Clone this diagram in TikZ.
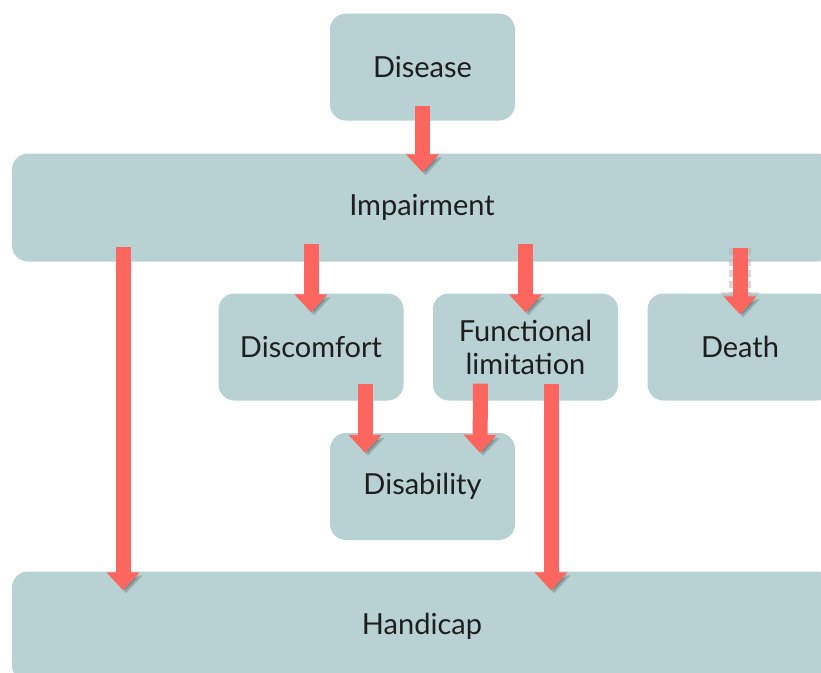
\documentclass[tikz,border=0pt]{standalone}
\usepackage{fontspec}
\setmainfont{Lato}
\usetikzlibrary{arrows.meta}
\definecolor{boxgray}{HTML}{B8D1D3}
\definecolor{arrred}{HTML}{FD665E}
\definecolor{txt}{HTML}{1E1E1E}
\tikzset{
  box/.style={fill=boxgray, rounded corners=16pt, minimum width=185pt, minimum height=107pt,
    text=txt, align=center, font=\fontsize{29}{33}\selectfont, inner sep=0pt},
  wide/.style={box, minimum width=820pt, minimum height=108pt},
  arr/.style={draw=arrred, line width=15pt, -{Triangle[length=18pt,width=32pt]},
    preaction={draw=black, opacity=0.18, transform canvas={shift={(3pt,-3pt)}}}},
  dasharr/.style={arr, preaction={draw=gray!60, opacity=0.5, line width=22pt, dash pattern=on 7pt off 4pt,
    -{Triangle[length=22pt,width=38pt]}}}
}
\begin{document}
\begin{tikzpicture}[x=1pt,y=-1pt]
	\useasboundingbox (0,0) rectangle (821,672);
	\clip (0,0) rectangle (821,672);
	\node[box] (disease) at (422.5,67) {Disease};
	\node[wide] (impair) at (422,207.5) {Impairment};
	\node[box] (discomfort) at (311,347) {Discomfort};
	\node[box] (functional) at (525.5,347) {Functional\\limitation};
	\node[box] (death) at (740,347) {Death};
	\node[box] (disability) at (422.5,486.5) {Disability};
	\node[wide, minimum height=110pt] (handicap) at (422,626.5) {Handicap};
	\draw[arr] ([yshift=15pt]disease.south) -- ([yshift=-19pt]impair.north -| disease.south);
	\draw[arr] ([yshift=18pt]impair.south -| discomfort.north) -- ([yshift=-19pt]discomfort.north);
	\draw[arr] ([yshift=18pt]impair.south -| functional.north) -- ([yshift=-19pt]functional.north);
	\draw[dasharr] ([yshift=14pt]impair.south -| death.north) -- ([yshift=-21pt]death.north);
	\draw[arr] ([xshift=-299pt,yshift=15pt]impair.south) -- ([xshift=-299pt,yshift=-19pt]handicap.north);
	\draw[arr] ([xshift=54pt,yshift=17pt]discomfort.south) -- ([xshift=-57.5pt,yshift=-20pt]disability.north);
	\draw[arr] ([xshift=-45pt,yshift=17pt]functional.south) -- ([xshift=57.5pt,yshift=-20pt]disability.north);
	\draw[arr] ([xshift=25.5pt,yshift=17pt]functional.south) -- ([xshift=129pt,yshift=-19pt]handicap.north);
\end{tikzpicture}
\end{document}
